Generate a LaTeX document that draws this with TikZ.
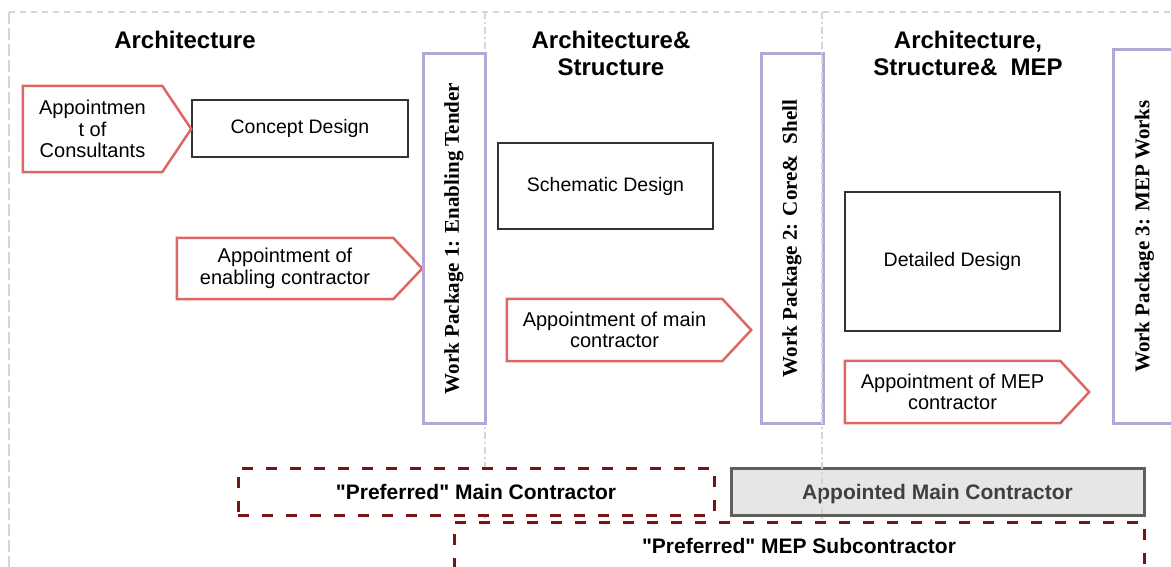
\documentclass[tikz,border=0pt]{standalone}
\usepackage{fontspec}
\setmainfont{Liberation Sans}
\newfontfamily\wpfont{Liberation Serif}
\usetikzlibrary{positioning}

\definecolor{apptred}{HTML}{E06666}
\definecolor{wppurple}{HTML}{B4A7D6}
\definecolor{boxdark}{HTML}{333333}
\definecolor{framegray}{HTML}{D6D6D6}
\definecolor{prefred}{HTML}{781414}
\definecolor{apptdfill}{HTML}{E6E6E6}
\definecolor{apptdline}{HTML}{5F5F5F}
\definecolor{apptdtext}{HTML}{404040}

\tikzset{
 stagetitle/.style={align=center, inner sep=0pt, font=\bfseries\fontsize{24}{27}\selectfont},
 designbox/.style={draw=boxdark, line width=2.5pt, minimum width=215pt, inner sep=0pt,
  font=\fontsize{19.5}{21}\selectfont},
 apptbody/.style={minimum width=215pt, minimum height=62pt, inner sep=0pt, align=center,
  font=\fontsize{20}{21.5}\selectfont},
 apptline/.style={draw=apptred, line width=2.5pt, line join=miter},
 wpbox/.style={draw=wppurple, line width=3pt, rotate=90, minimum width=369pt,
  minimum height=62pt, inner sep=0pt, font=\wpfont\bfseries\fontsize{21}{23}\selectfont},
 prefbox/.style={draw=prefred, line width=3pt, dash pattern=on 11pt off 13pt, fill=white,
  minimum height=47pt, inner sep=0pt, font=\bfseries\fontsize{21}{23}\selectfont},
 divider/.style={draw=framegray, line width=2pt, dash pattern=on 7pt off 3pt on 2pt off 3pt},
}

\begin{document}
\begin{tikzpicture}[x=1pt,y=-1pt]

 \useasboundingbox (0,0) rectangle (1171,567);

 % outer frame and first stage divider
 \draw[framegray, line width=2.5pt, dash pattern=on 6pt off 5pt] (9,12) -- (1171,12);
 \draw[framegray, line width=2.5pt, dash pattern=on 12pt off 4pt] (9,12) -- (9,567);
 \coordinate (divA top) at (485,12);
 \coordinate (divA bot) at (485,522);
 \draw[divider] (divA top) -- (divA bot);

 % STAGE titles
 \node[stagetitle] (archtitle) at (185,40) {Architecture};
 \node[stagetitle] (structtitle) at (611,53.5) {Architecture\&\\Structure};
 \node[stagetitle] (meptitle) at (968,53.5) {Architecture,\\Structure\&\ \ MEP};

 % STATE design boxes
 \node[designbox,
  minimum width=216pt, 	% a bit wider than the others
  minimum height=57pt] (concept) at (300,128.5) {Concept Design};
 \node[designbox, minimum height=86pt] (schematic) at (605.5,186) {Schematic Design};
 \node[designbox, minimum height=139pt] (detailed) at (952.5,261.5) {Detailed Design};

 % STATE appointments (outline drawn below)
 \node[apptbody,
  minimum width=139pt, 	% narrow body
  minimum height=86pt] (consult) at (92.5,129) {Appointmen\\t of\\Consultants};
 \node[apptbody, minimum width=216pt, minimum height=61pt] (enabling) at (285,268.5)
  {Appointment of\\enabling contractor};
 \node[apptbody] (mainctr) at (614.5,330) {Appointment of main\\contractor};
 \node[apptbody] (mepctr) at (952.5,392) {Appointment of MEP\\contractor};

 % pentagon outline round every appointment, tip to the east
 \foreach \n in {consult,enabling,mainctr,mepctr}
  \draw[apptline] (\n.north west) -- (\n.north east) -- ([xshift=29pt]\n.east)
   -- (\n.south east) -- (\n.south west) -- cycle;

 % STATE work packages
 \node[wpbox] (wpone) at (454,238.5) {Work Package 1: Enabling Tender};
 \node[wpbox] (wptwo) at (792,238.5) {Work Package 2: Core\&\ \ Shell};
 \node[wpbox, minimum width=373pt] (wpthree) at (1144.5,236.5) {Work Package 3: MEP Works};

 % STATE contractors
 \node[prefbox, minimum width=476pt] (prefmain) at (476,491.5)
  {\textquotedbl Preferred\textquotedbl\ Main Contractor};
 \node[draw=apptdline, fill=apptdfill, text=apptdtext,
  line width=3pt,
  minimum width=413pt,
  minimum height=47pt,
  inner sep=0pt,
  text height=15pt, 	% keep the text centred
  text depth=0pt,
  font=\bfseries\fontsize{21}{23}\selectfont] (apptdmain) at (937.5,491.5) {Appointed Main Contractor};
 \node[prefbox, minimum width=690pt, minimum height=48pt] (prefmep) at (799,546)
  {\textquotedbl Preferred\textquotedbl\ MEP Subcontractor};

 % second stage divider, over the appointed box
 \coordinate (divB top) at (822,12);
 \coordinate (divB bot) at (822,522);
 \draw[divider] (divB top) -- (divB bot);

\end{tikzpicture}
\end{document}
